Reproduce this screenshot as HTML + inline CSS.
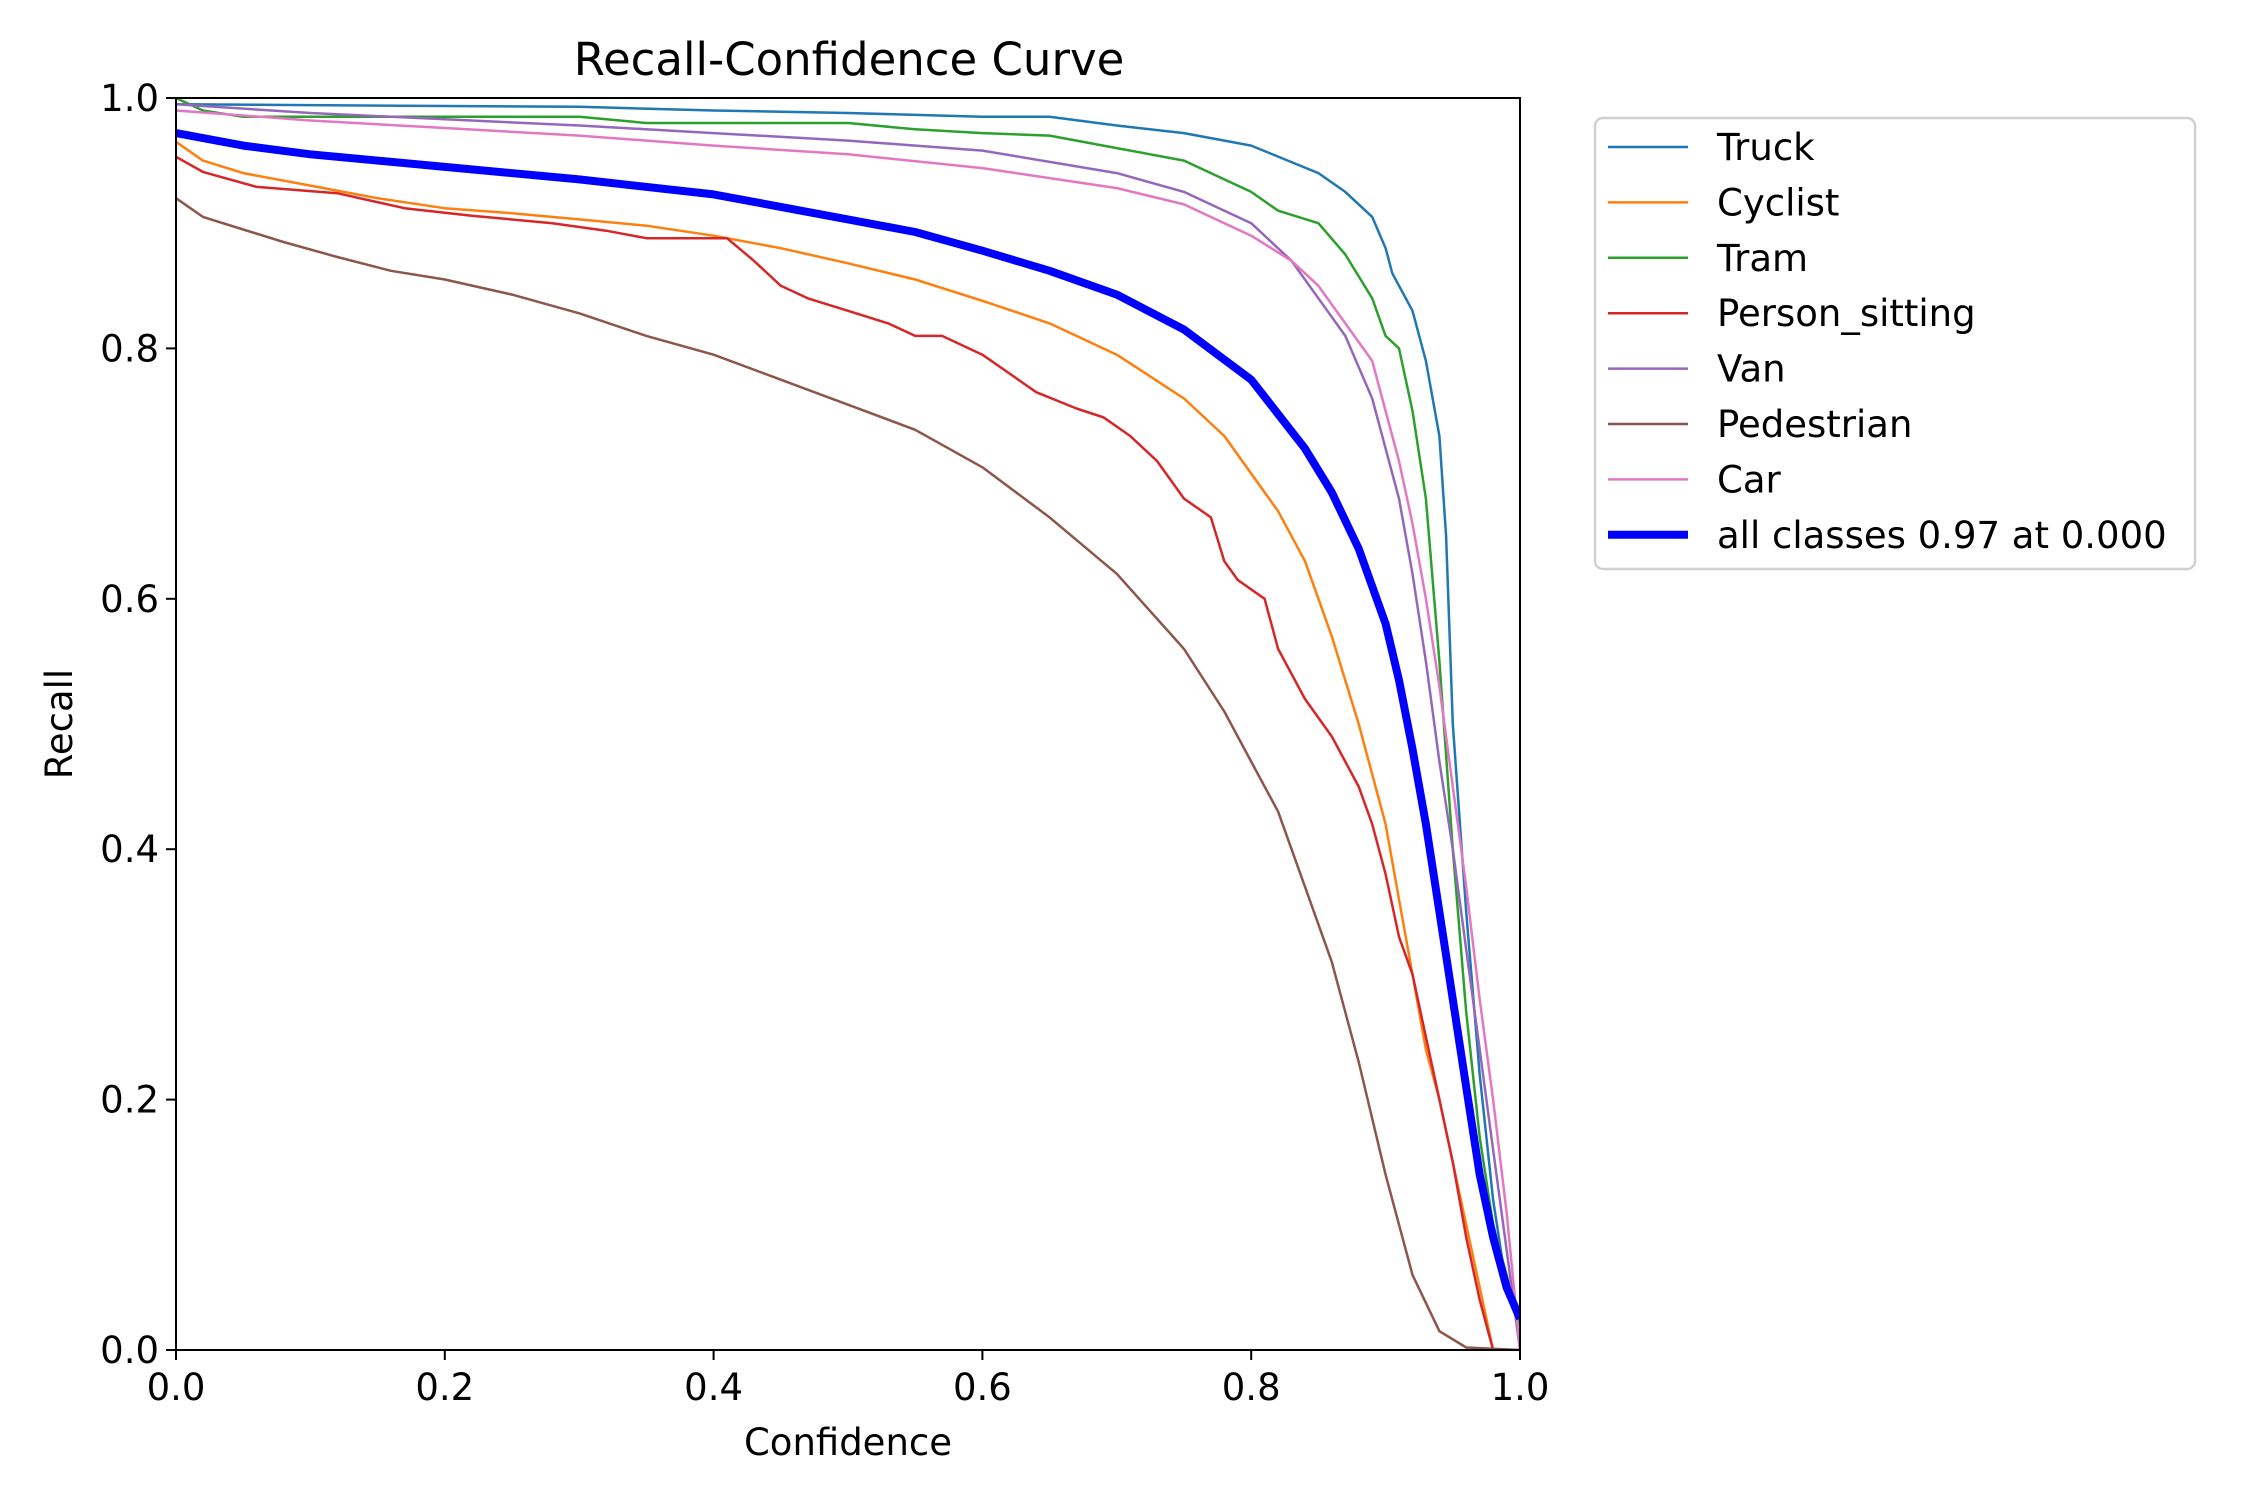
<!DOCTYPE html>
<html><head><meta charset="utf-8">
<style>
html,body{margin:0;padding:0;background:#fff;}
svg{display:block;font-family:"DejaVu Sans","Liberation Sans",sans-serif;}
</style></head>
<body>
<svg id="chart" width="2250" height="1500" viewBox="0 0 2250 1500">
<rect x="0" y="0" width="2250" height="1500" fill="#fff"/>
<text x="849" y="75" font-size="45" text-anchor="middle">Recall-Confidence Curve</text>
<g id="plot"></g>
</svg>
<script>
const seriesNames = ["Truck","Cyclist","Tram","Person_sitting","Van","Pedestrian","Car"];
const seriesColors = ["#1f77b4","#ff7f0e","#2ca02c","#d62728","#9467bd","#8c564b","#e377c2"];
const xTicks = [0,0.2,0.4,0.6,0.8,1.0];
const yTicks = [0,0.2,0.4,0.6,0.8,1.0];
const truckX = [0,0.3,0.4,0.5,0.6,0.65,0.7,0.75,0.8,0.85,0.87,0.89,0.9,0.905,0.92,0.93,0.94,0.945,0.95,0.96,0.97,0.98,0.99,1.0];
const truckY = [0.995,0.993,0.99,0.988,0.985,0.985,0.978,0.972,0.962,0.94,0.925,0.905,0.88,0.86,0.83,0.79,0.73,0.65,0.5,0.35,0.22,0.12,0.05,0.02];
const cyclistX = [0,0.02,0.05,0.1,0.15,0.2,0.25,0.3,0.35,0.4,0.45,0.5,0.55,0.6,0.65,0.7,0.75,0.78,0.8,0.82,0.84,0.86,0.88,0.9,0.91,0.92,0.93,0.94,0.95,0.96,0.97,0.98,1.0];
const cyclistY = [0.965,0.95,0.94,0.93,0.92,0.912,0.908,0.903,0.898,0.89,0.88,0.868,0.855,0.838,0.82,0.795,0.76,0.73,0.7,0.67,0.63,0.57,0.5,0.42,0.36,0.3,0.24,0.2,0.15,0.1,0.05,0,0];
const tramX = [0,0.02,0.05,0.3,0.35,0.5,0.55,0.6,0.65,0.7,0.75,0.78,0.8,0.82,0.85,0.87,0.89,0.9,0.91,0.92,0.93,0.94,0.95,0.96,0.97,0.98,1.0];
const tramY = [1.0,0.99,0.985,0.985,0.98,0.98,0.975,0.972,0.97,0.96,0.95,0.935,0.925,0.91,0.9,0.875,0.84,0.81,0.8,0.75,0.68,0.55,0.4,0.27,0.17,0.1,0.02];
const psX = [0,0.02,0.06,0.12,0.17,0.22,0.28,0.32,0.35,0.41,0.43,0.45,0.47,0.5,0.53,0.55,0.57,0.6,0.62,0.64,0.67,0.69,0.71,0.73,0.75,0.77,0.78,0.79,0.81,0.82,0.84,0.86,0.88,0.89,0.9,0.91,0.92,0.93,0.94,0.95,0.96,0.97,0.98];
const psY = [0.953,0.941,0.929,0.924,0.912,0.906,0.9,0.894,0.888,0.888,0.87,0.85,0.84,0.83,0.82,0.81,0.81,0.795,0.78,0.765,0.752,0.745,0.73,0.71,0.68,0.665,0.63,0.615,0.6,0.56,0.52,0.49,0.45,0.42,0.38,0.33,0.3,0.25,0.2,0.15,0.09,0.04,0];
const vanX = [0,0.1,0.2,0.3,0.4,0.5,0.6,0.7,0.75,0.8,0.83,0.85,0.87,0.89,0.9,0.91,0.92,0.93,0.94,0.95,0.96,0.97,0.98,0.99,1.0];
const vanY = [0.995,0.988,0.983,0.978,0.972,0.966,0.958,0.94,0.925,0.9,0.87,0.84,0.81,0.76,0.72,0.68,0.62,0.55,0.47,0.4,0.32,0.24,0.16,0.08,0];
const pedX = [0,0.02,0.05,0.08,0.12,0.16,0.2,0.25,0.3,0.35,0.4,0.45,0.5,0.55,0.6,0.65,0.7,0.75,0.78,0.8,0.82,0.84,0.86,0.88,0.9,0.92,0.94,0.96,1.0];
const pedY = [0.92,0.905,0.895,0.885,0.873,0.862,0.855,0.843,0.828,0.81,0.795,0.775,0.755,0.735,0.705,0.665,0.62,0.56,0.51,0.47,0.43,0.37,0.31,0.23,0.14,0.06,0.015,0.002,0];
const carX = [0,0.1,0.2,0.3,0.4,0.5,0.6,0.7,0.75,0.8,0.83,0.85,0.87,0.89,0.9,0.91,0.92,0.93,0.94,0.95,0.96,0.97,0.98,0.99,1.0];
const carY = [0.99,0.982,0.976,0.97,0.962,0.955,0.944,0.928,0.915,0.89,0.87,0.85,0.82,0.79,0.75,0.71,0.66,0.6,0.53,0.45,0.37,0.28,0.2,0.11,0];
const allX = [0,0.05,0.1,0.2,0.3,0.4,0.45,0.5,0.55,0.6,0.65,0.7,0.75,0.8,0.84,0.86,0.88,0.9,0.91,0.92,0.93,0.94,0.95,0.96,0.97,0.98,0.99,1.0];
const allY = [0.972,0.962,0.955,0.945,0.935,0.923,0.913,0.903,0.893,0.878,0.862,0.843,0.815,0.775,0.72,0.685,0.64,0.58,0.535,0.48,0.42,0.35,0.28,0.21,0.14,0.09,0.05,0.025];
const allLabel = "all classes 0.97 at 0.000";

const NS="http://www.w3.org/2000/svg";
const L=176,R=1520,T=98,B=1350;
const sx=v=>L+v*(R-L), sy=v=>B-v*(B-T);
const plot=document.getElementById('plot');
function mk(tag,attrs,parent){const e=document.createElementNS(NS,tag);for(const k in attrs)e.setAttribute(k,attrs[k]);(parent||plot).appendChild(e);return e;}
function pathOf(xs,ys){return xs.map((x,i)=>(i?'L':'M')+sx(x).toFixed(1)+','+sy(ys[i]).toFixed(1)).join('');}
const xsAll=[truckX,cyclistX,tramX,psX,vanX,pedX,carX];
const ysAll=[truckY,cyclistY,tramY,psY,vanY,pedY,carY];
const clip=mk('clipPath',{id:'clipA'});mk('rect',{x:L,y:T,width:R-L,height:B-T},clip);
for(let i=0;i<seriesNames.length;i++){
  const p=mk('path',{d:pathOf(xsAll[i],ysAll[i]),fill:'none',stroke:seriesColors[i],'stroke-width':2.5,'stroke-linejoin':'round','clip-path':'url(#clipA)'});
  
  
}
const pa=mk('path',{d:pathOf(allX,allY),fill:'none',stroke:'#0000ff','stroke-width':8,'stroke-linejoin':'round','clip-path':'url(#clipA)'});


const frame=mk('rect',{x:L,y:T,width:R-L,height:B-T,fill:'none',stroke:'#000','stroke-width':2});


xTicks.forEach(v=>{
  mk('line',{x1:sx(v),x2:sx(v),y1:B,y2:B+10,stroke:'#000','stroke-width':2});
  const t=mk('text',{x:sx(v),y:B+50,'font-size':37,'text-anchor':'middle'});t.textContent=v.toFixed(1);
  
  
});
yTicks.forEach(v=>{
  mk('line',{x1:L-10,x2:L,y1:sy(v),y2:sy(v),stroke:'#000','stroke-width':2});
  const t=mk('text',{x:L-17,y:sy(v)+13,'font-size':37,'text-anchor':'end'});t.textContent=v.toFixed(1);
  
  
});
const xt=mk('text',{x:(L+R)/2,y:1455,'font-size':37,'text-anchor':'middle'});xt.textContent='Confidence';


const yt=mk('text',{x:72,y:(T+B)/2,'font-size':37,'text-anchor':'middle',transform:'rotate(-90 72 '+((T+B)/2)+')'});yt.textContent='Recall';


// legend
const lg=mk('g',{});


mk('rect',{x:1595,y:118,width:600,height:451,rx:8,fill:'#fff',stroke:'#d0d0d0','stroke-width':2.5},lg);
const names=seriesNames.concat([allLabel]), cols=seriesColors.concat(['#0000ff']);
names.forEach((n,i)=>{
  const y=147+i*55.4;
  const ln=mk('line',{x1:1608,x2:1688,y1:y,y2:y,stroke:cols[i],'stroke-width':i===7?8:2.5},lg);
  
  
  const t=mk('text',{x:1717,y:y+13,'font-size':37},lg);t.textContent=n;
  
  
});
</script>
</body></html>
